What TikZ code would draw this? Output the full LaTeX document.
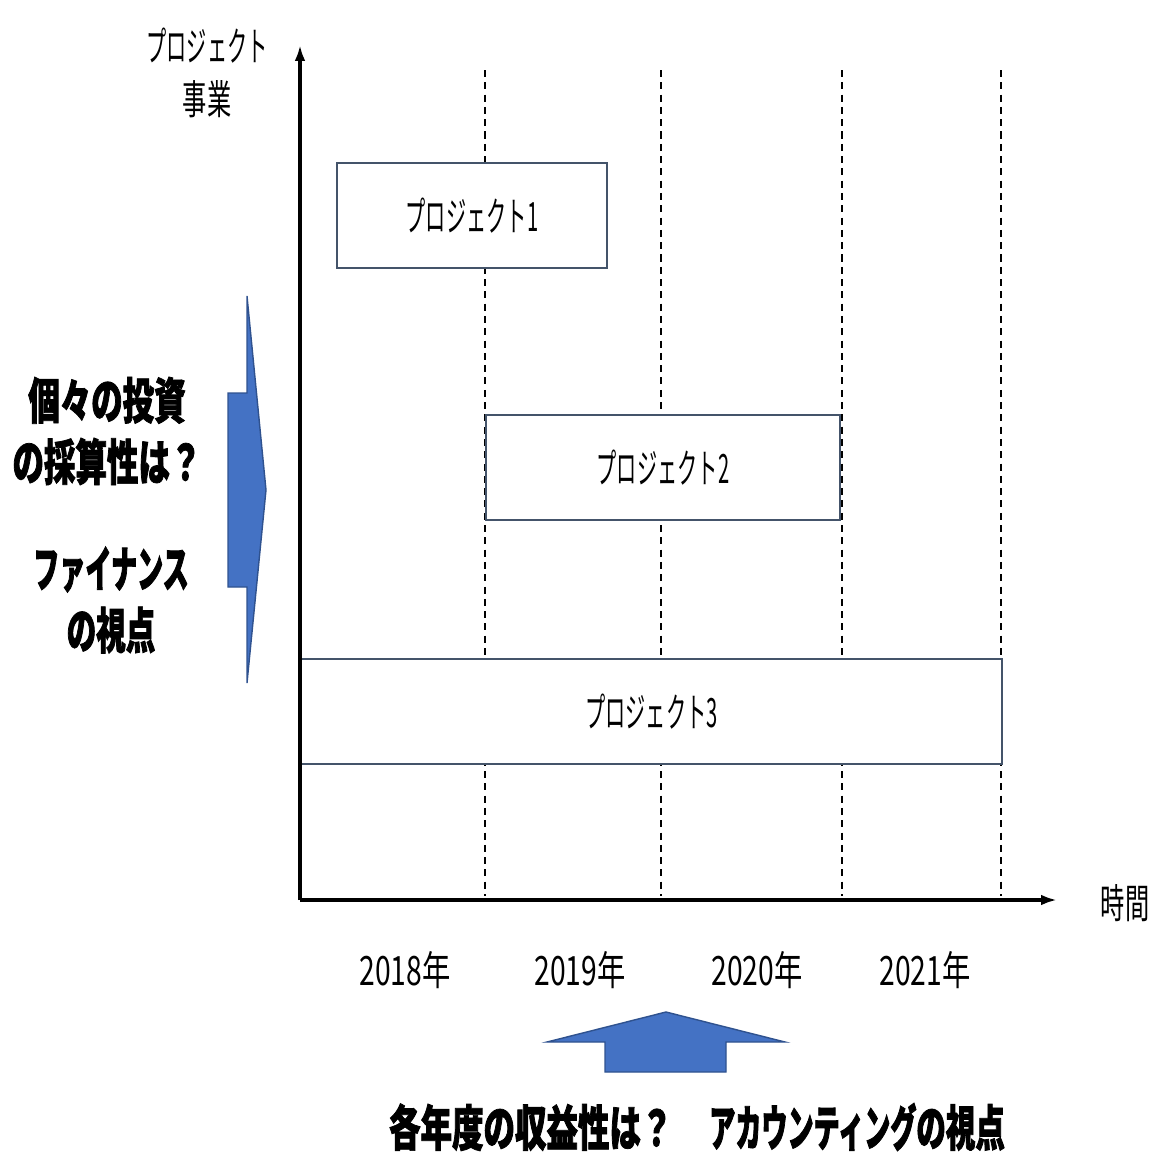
\documentclass[tikz,border=0pt]{standalone}
\usepackage{fontspec}
\newfontfamily\jpnarrow[FakeStretch=0.5]{Noto Sans CJK JP}
\newfontfamily\jpkanji[FakeStretch=0.6]{Noto Sans CJK JP}
\newfontfamily\jpyear[FakeStretch=0.7]{Noto Sans CJK JP}
\newfontfamily\jpheavy[FakeStretch=0.6,FakeBold=1.5]{Noto Sans CJK JP}
\newfontfamily\jpheavywide[FakeStretch=0.64,FakeBold=1.5]{Noto Sans CJK JP}
\newfontfamily\jpheavynarrow[FakeStretch=0.53,FakeBold=1.5]{Noto Sans CJK JP}
\usetikzlibrary{arrows.meta}
\definecolor{boxline}{RGB}{68,84,106}
\definecolor{arrowfill}{RGB}{68,114,196}
\definecolor{arrowline}{RGB}{47,82,143}
\tikzset{
  prjbox/.style={draw=boxline, fill=white, line width=0.8pt, inner sep=0pt, outer sep=0pt,
    font=\fontsize{23}{26}\jpnarrow},
  yeargrid/.style={draw=black, line width=0.8pt, dash pattern=on 4pt off 3pt},
  axis/.style={draw=black, line width=2.2pt, -{Latex[length=9pt,width=6pt]}},
  bigarrow/.style={fill=arrowfill, draw=arrowline, line width=0.8pt, line join=miter},
  yearlabel/.style={font=\fontsize{23}{26}\jpyear},
  viewlabel/.style={align=center, font=\fontsize{28}{35}\jpheavy\bfseries}
}
\begin{document}
\begin{tikzpicture}[x=0.02cm, y=-0.02cm]
    \useasboundingbox (0,0) rectangle (1170,1170);
    \coordinate (origin) at (300,900);
    \coordinate (ytop) at (300,45);
    \coordinate (xend) at (1057,900);
    \foreach \gx/\gname in {485/a, 661/b, 842/c, 1001/d} {
        \coordinate (g\gname top) at (\gx,70);
        \coordinate (g\gname bot) at (\gx,896);
        \draw[yeargrid] (g\gname top) -- (g\gname bot);
    }
    \node[prjbox, minimum width=5.4cm, minimum height=2.1cm] (prj1) at (472,215.5) {プロジェクト1};
    \node[prjbox, minimum width=7.08cm, minimum height=2.1cm] (prj2) at (663,467.5) {プロジェクト2};
    \node[prjbox, minimum width=14.02cm, minimum height=2.1cm] (prj3) at (651.5,711.5) {プロジェクト3};
    \draw[axis] (origin) -- (ytop);
    \draw[axis] (origin) -- (xend);
    \node[align=center, font=\fontsize{23}{30}\jpnarrow] (ylabel) at (207,73) {プロジェクト\\{\jpkanji 事業}};
    \node[font=\fontsize{23}{26}\jpkanji] (xlabel) at (1125,903) {時間};
    \node[yearlabel] (y2018) at (405,970) {2018年};
    \node[yearlabel] (y2019) at (580,970) {2019年};
    \node[yearlabel] (y2020) at (757,970) {2020年};
    \node[yearlabel] (y2021) at (925,970) {2021年};
    \filldraw[bigarrow] (228,393) -- (247,393) -- (247,296) -- (266,490) -- (247,683) -- (247,587) -- (228,587) -- cycle;
    \filldraw[bigarrow] (605,1072) -- (605,1042) -- (547,1042) -- (666,1012) -- (785,1042) -- (726,1042) -- (726,1072) -- cycle;
    \node[viewlabel, font=\fontsize{28}{35}\jpheavywide\bfseries] (finq) at (107,431) {個々の投資\\の採算性は？};
    \node[viewlabel] (finview) at (111,600) {{\jpheavynarrow ファイナンス}\\の視点};
    \node[viewlabel] (acctview) at (697,1127) {{\jpheavywide 各年度の収益性は？}\hspace{21pt}{\jpheavynarrow アカウンティング}の視点};
\end{tikzpicture}
\end{document}
